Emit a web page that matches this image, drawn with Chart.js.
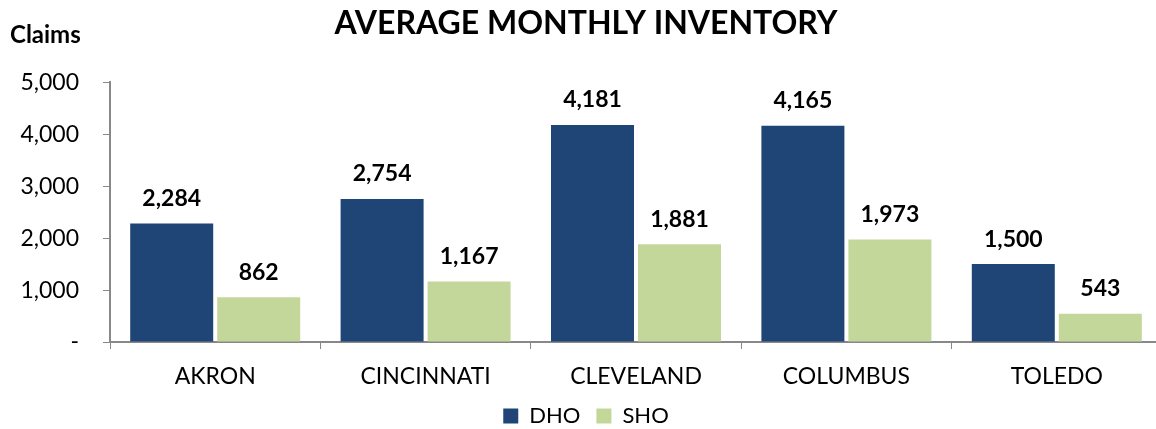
<!DOCTYPE html>
<html>
<head>
<meta charset="utf-8">
<script src="https://cdn.jsdelivr.net/npm/chart.js@4/dist/chart.umd.min.js"></script>
<style>
  html, body { margin: 0; padding: 0; background: #fff; overflow: hidden; }
  /* the source image is cropped on the right: the axis runs past the edge */
  #wrap { width: 1172px; height: 437px; position: relative; }
</style>
</head>
<body>
<div id="wrap"><canvas id="myChart"></canvas></div>
<script>
const categories = ['AKRON', 'CINCINNATI', 'CLEVELAND', 'COLUMBUS', 'TOLEDO'];
const dhoValues = [2284, 2754, 4181, 4165, 1500];
const shoValues = [862, 1167, 1881, 1973, 543];
const yTicks = [0, 1000, 2000, 3000, 4000, 5000];

const FONT = 'Lato, "Open Sans", sans-serif';

// value labels above the bars + the "Claims" caption
const barLabels = {
  id: 'barLabels',
  afterDatasetsDraw: function (chart) {
    const ctx = chart.ctx;
    ctx.save();
    ctx.font = 'bold 23px ' + FONT;
    ctx.fillStyle = '#000';
    ctx.textAlign = 'center';
    ctx.textBaseline = 'middle';
    chart.data.datasets.forEach(function (ds, di) {
      const meta = chart.getDatasetMeta(di);
      meta.data.forEach(function (bar, i) {
        ctx.fillText(ds.data[i].toLocaleString('en-US'), bar.x, bar.y - 25);
      });
    });
    ctx.font = 'bold 24px ' + FONT;
    ctx.textAlign = 'left';
    ctx.fillText('Claims', 10, 35);
    ctx.restore();
  }
};

const data = {
  labels: categories,
  datasets: [{
    label: 'DHO',
    data: dhoValues,
    backgroundColor: '#1F4476',
    borderWidth: 0,
    barPercentage: 0.954,
    categoryPercentage: 0.827
  }, {
    label: 'SHO',
    data: shoValues,
    backgroundColor: '#C4D79B',
    borderWidth: 0,
    barPercentage: 0.954,
    categoryPercentage: 0.827
  }]
};

const config = {
  type: 'bar',
  data: data,
  options: {
    responsive: true,
    maintainAspectRatio: false,
    animation: false,
    layout: { padding: { left: 10, right: 10, top: 0, bottom: 0 } },
    plugins: {
      title: {
        display: true,
        text: 'AVERAGE MONTHLY INVENTORY',
        color: '#000',
        font: { family: FONT, size: 32, weight: 'bold' },
        padding: { top: 4, bottom: 40 }
      },
      legend: {
        position: 'bottom',
        labels: {
          color: '#000',
          font: { family: FONT, size: 22 },
          boxWidth: 15,
          boxHeight: 15,
          padding: 16
        }
      },
      tooltip: { enabled: false }
    },
    scales: {
      x: {
        afterFit: function (axis) { axis.height = 47; },
        grid: {
          drawOnChartArea: false,
          tickLength: 7,
          color: '#888'
        },
        border: { color: '#888', width: 2 },
        ticks: {
          color: '#000',
          font: { family: FONT, size: 23 },
          padding: 14
        }
      },
      y: {
        min: 0,
        max: 5000,
        afterBuildTicks: function (axis) {
          axis.ticks = yTicks.map(function (v) { return { value: v }; });
        },
        afterFit: function (axis) { axis.width = 100; },
        grid: {
          drawOnChartArea: false,
          tickLength: 7,
          color: '#888'
        },
        border: { color: '#888', width: 2 },
        ticks: {
          color: '#000',
          font: { family: FONT, size: 23 },
          padding: 24,
          callback: function (v) { return v === 0 ? '-' : v.toLocaleString('en-US'); }
        }
      }
    }
  },
  plugins: [barLabels]
};

const myChart = new Chart(document.getElementById('myChart'), config);
</script>
</body>
</html>
